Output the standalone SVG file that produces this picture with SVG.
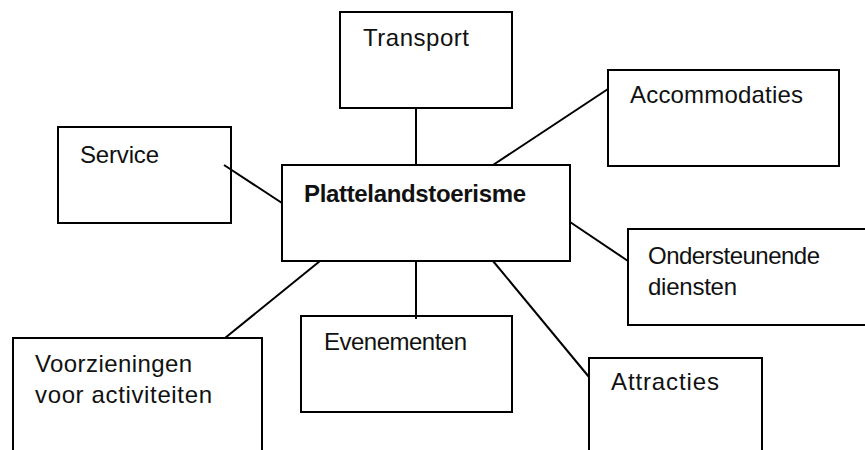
<svg xmlns="http://www.w3.org/2000/svg" width="865" height="450" viewBox="0 0 865 450">
<style>
.box{fill:#fff;stroke:#000;stroke-width:2}
.lbl{font-family:"Liberation Sans",Arial,sans-serif;font-size:24px;fill:#111}
.main{font-weight:bold}
.conn line{stroke:#000;stroke-width:2}
</style>
<rect width="865" height="450" fill="#fff"/>
<g id="transport">
<rect class="box" x="340" y="12" width="172" height="96"/>
<text class="lbl" x="363" y="46" textLength="106" lengthAdjust="spacing">Transport</text>
</g>
<g id="accommodaties">
<rect class="box" x="608" y="70" width="231" height="96"/>
<text class="lbl" x="630" y="103" textLength="173" lengthAdjust="spacing">Accommodaties</text>
</g>
<g id="service">
<rect class="box" x="58" y="127" width="173" height="96"/>
<text class="lbl" x="80" y="163" textLength="79" lengthAdjust="spacing">Service</text>
</g>
<g id="plattelandstoerisme">
<rect class="box" x="282" y="165" width="288" height="96"/>
<text class="lbl main" x="304" y="202" textLength="222" lengthAdjust="spacing">Plattelandstoerisme</text>
</g>
<g id="ondersteunende-diensten">
<rect class="box" x="628" y="229" width="260" height="96"/>
<text class="lbl" x="648" y="264" textLength="172" lengthAdjust="spacing">Ondersteunende</text>
<text class="lbl" x="648" y="295" textLength="89" lengthAdjust="spacing">diensten</text>
</g>
<g id="evenementen">
<rect class="box" x="301" y="316" width="211" height="96"/>
<text class="lbl" x="324" y="350" textLength="143" lengthAdjust="spacing">Evenementen</text>
</g>
<g id="voorzieningen">
<rect class="box" x="13" y="338" width="249" height="130"/>
<text class="lbl" x="35" y="372" textLength="157" lengthAdjust="spacing">Voorzieningen</text>
<text class="lbl" x="35" y="403" textLength="177" lengthAdjust="spacing">voor activiteiten</text>
</g>
<g id="attracties">
<rect class="box" x="589" y="358" width="173" height="110"/>
<text class="lbl" x="611" y="390" textLength="108" lengthAdjust="spacing">Attracties</text>
</g>
<g id="connectors" class="conn">
<line x1="416" y1="108" x2="416" y2="165"/>
<line x1="608" y1="89" x2="493" y2="165"/>
<line x1="224" y1="165" x2="282" y2="203"/>
<line x1="570" y1="222" x2="628" y2="261"/>
<line x1="416" y1="261" x2="416" y2="319"/>
<line x1="493" y1="261" x2="589" y2="377"/>
<line x1="320" y1="261" x2="225" y2="338"/>
</g>
</svg>
